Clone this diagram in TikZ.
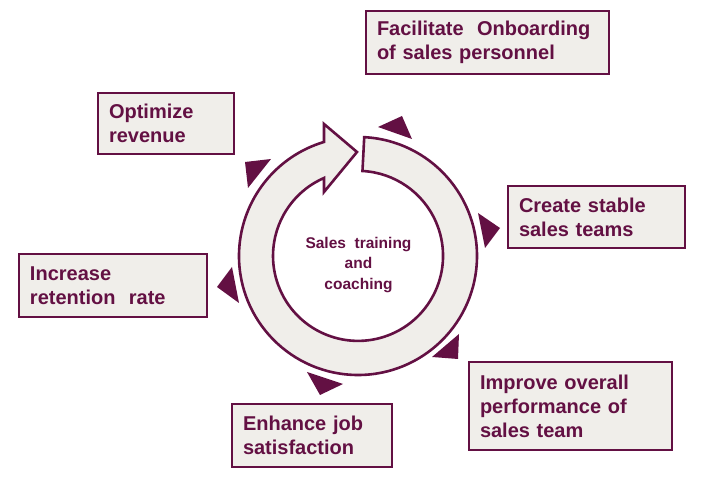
\documentclass[tikz,border=0pt]{standalone}
\usepackage{fontspec}
\setmainfont{Liberation Sans}
\definecolor{plum}{RGB}{99,16,67}
\definecolor{boxgray}{RGB}{240,238,234}
\begin{document}
\begin{tikzpicture}[x=1pt,y=1pt,
  goal/.style={draw=plum, fill=boxgray, line width=1.1pt, text=plum,
    font=\fontsize{20}{24}\selectfont\bfseries, align=left,
    inner xsep=11pt, inner ysep=0pt},
  marker/.style={fill=plum, draw=none},
  ring/.style={draw=plum, fill=boxgray, line width=2.6pt, line join=miter}]
\useasboundingbox (0,0) rectangle (705,482);

% circular arrow
\begin{scope}[shift={(358,226)}]
  \path[ring] (87:119) arc[start angle=87, end angle=-253.4, radius=119]
    -- (-34,132) -- (-1,104) -- (-34,64) -- (-34,78)
    arc[start angle=-246.4, end angle=87, radius=85] -- cycle;
\end{scope}
\node[text=plum, font=\fontsize{15.5}{20.5}\selectfont\bfseries, align=center]
  (core) at (358.5,217) {Sales\ \ training\\and\\coaching};

% goal boxes
\node[goal, text width=221pt, minimum height=63pt] (onb) at (487.5,439.5)
  {Facilitate\ \ Onboarding\\of sales personnel};
\node[goal, text width=114pt, minimum height=61pt] (rev) at (166,358.5)
  {Optimize\\revenue};
\node[goal, text width=155pt, minimum height=62pt] (stab) at (596.5,265)
  {Create stable\\sales teams};
\node[goal, text width=166pt, minimum height=63pt] (ret) at (113,196.5)
  {Increase\\retention\ \ rate};
\node[goal, text width=181pt, minimum height=88pt] (perf) at (570.5,76)
  {Improve overall\\performance of\\sales team};
\node[goal, text width=138pt, minimum height=63pt] (job) at (312,46.5)
  {Enhance job\\satisfaction};

% triangle markers
\fill[marker] (378,355) -- (402,366) -- (412,343) -- cycle;
\fill[marker] (478,269) -- (500,254) -- (485,234) -- cycle;
\fill[marker] (459,148) -- (432,125) -- (458,123) -- cycle;
\fill[marker] (307,110) -- (343,98) -- (320,87) -- cycle;
\fill[marker] (232,215) -- (217,195) -- (239,179) -- cycle;
\fill[marker] (245,320) -- (271,323) -- (248,294) -- cycle;
\end{tikzpicture}
\end{document}
